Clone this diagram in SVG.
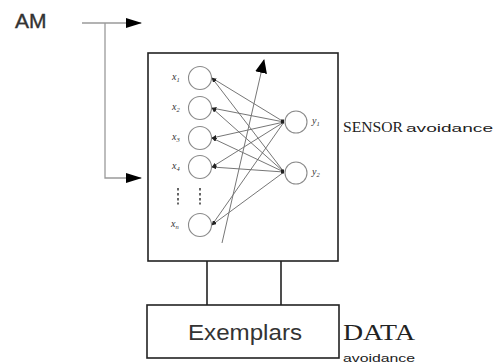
<svg xmlns="http://www.w3.org/2000/svg" width="498" height="364" viewBox="0 0 498 364">
<style>
.box{fill:#fff;stroke:#222;stroke-width:1.6}
.wire{fill:none;stroke:#9a9a9a;stroke-width:1.3}
.vl{fill:none;stroke:#222;stroke-width:1.6}
.neuron{fill:#fff;stroke:#8a8a8a;stroke-width:1.1}
.syn{stroke:#666;stroke-width:0.9;fill:none}
.lbl{font-family:"Liberation Serif",serif;font-style:italic;font-size:10px;fill:#333}
.sub{font-size:6.5px}
.sans{font-family:"Liberation Sans",Arial,sans-serif}
.serif{font-family:"Liberation Serif","Times New Roman",serif}
</style>
<defs>
<marker id="ah" markerWidth="16" markerHeight="10" refX="15" refY="5" orient="auto" markerUnits="userSpaceOnUse">
<path d="M0,0 L16,5 L0,10 z" fill="#000"/>
</marker>
<marker id="big" markerWidth="14" markerHeight="12" refX="13" refY="6" orient="auto" markerUnits="userSpaceOnUse">
<path d="M0,0 L14,6 L0,12 z" fill="#000"/>
</marker>
<marker id="sm" markerWidth="5" markerHeight="4" refX="4.5" refY="2" orient="auto" markerUnits="userSpaceOnUse">
<path d="M0,0 L5,2 L0,4 z" fill="#222"/>
</marker>
</defs>

<g id="am-label">
<text x="15" y="28" class="sans" font-size="21" fill="#333" stroke="#333" stroke-width="0.4">AM</text>
</g>

<g id="connectors">
<path class="wire" d="M82,23 H141" marker-end="url(#ah)"/>
<path class="wire" d="M105,23 V178 H141" marker-end="url(#ah)"/>
<line class="vl" x1="207" y1="261" x2="207" y2="305"/>
<line class="vl" x1="281" y1="261" x2="281" y2="305"/>
</g>

<g id="sensor-box">
<rect class="box" x="148" y="53" width="190" height="208"/>
<g id="synapses">
<line class="syn" x1="284" y1="122" x2="212" y2="78" marker-end="url(#sm)"/>
<line class="syn" x1="284" y1="172" x2="212" y2="78" marker-end="url(#sm)"/>
<line class="syn" x1="284" y1="122" x2="212" y2="108" marker-end="url(#sm)"/>
<line class="syn" x1="284" y1="172" x2="212" y2="108" marker-end="url(#sm)"/>
<line class="syn" x1="284" y1="122" x2="212" y2="138" marker-end="url(#sm)"/>
<line class="syn" x1="284" y1="172" x2="212" y2="138" marker-end="url(#sm)"/>
<line class="syn" x1="284" y1="122" x2="212" y2="167" marker-end="url(#sm)"/>
<line class="syn" x1="284" y1="172" x2="212" y2="167" marker-end="url(#sm)"/>
<line class="syn" x1="284" y1="122" x2="212" y2="225" marker-end="url(#sm)"/>
<line class="syn" x1="284" y1="172" x2="212" y2="225" marker-end="url(#sm)"/>
<rect x="281" y="119.5" width="3" height="4" fill="#222"/>
<rect x="281" y="169.5" width="3" height="4" fill="#222"/>
</g>
<line x1="222" y1="243" x2="264" y2="60" stroke="#777" stroke-width="1" marker-end="url(#big)"/>
<g id="inputs">
<circle class="neuron" cx="200" cy="78" r="11.5"/>
<circle class="neuron" cx="200" cy="108" r="11.5"/>
<circle class="neuron" cx="200" cy="138" r="11.5"/>
<circle class="neuron" cx="200" cy="167" r="11.5"/>
<circle class="neuron" cx="200" cy="225" r="11.5"/>
<text class="lbl" x="172" y="80">x<tspan class="sub" dy="2">1</tspan></text>
<text class="lbl" x="172" y="110">x<tspan class="sub" dy="2">2</tspan></text>
<text class="lbl" x="172" y="140">x<tspan class="sub" dy="2">3</tspan></text>
<text class="lbl" x="172" y="169">x<tspan class="sub" dy="2">4</tspan></text>
<text class="lbl" x="171" y="227">x<tspan class="sub" dy="2">n</tspan></text>
<g fill="#666">
<rect x="177" y="188" width="2" height="2.5"/><rect x="177" y="193" width="2" height="2.5"/><rect x="177" y="198" width="2" height="2.5"/><rect x="177" y="202.5" width="2" height="2"/>
<rect x="199" y="188" width="2" height="2.5"/><rect x="199" y="193" width="2" height="2.5"/><rect x="199" y="198" width="2" height="2.5"/><rect x="199" y="202.5" width="2" height="2"/>
</g>
</g>
<g id="outputs">
<circle class="neuron" cx="296" cy="122" r="11"/>
<circle class="neuron" cx="296" cy="173" r="11"/>
<text class="lbl" x="312" y="124">y<tspan class="sub" dy="2">1</tspan></text>
<text class="lbl" x="312" y="175">y<tspan class="sub" dy="2">2</tspan></text>
</g>
</g>

<g id="sensor-label">
<text x="343" y="132" fill="#222"><tspan class="serif" font-size="14" textLength="60" lengthAdjust="spacingAndGlyphs">SENSOR</tspan><tspan class="sans" font-size="11" dx="3" textLength="87" lengthAdjust="spacingAndGlyphs">avoidance</tspan></text>
</g>

<g id="exemplars">
<rect class="box" x="147" y="305" width="192" height="53"/>
<text x="245" y="340" text-anchor="middle" class="sans" font-size="22" fill="#333" textLength="114" lengthAdjust="spacingAndGlyphs">Exemplars</text>
</g>

<g id="data-label">
<text x="343" y="340" class="serif" font-size="23" fill="#222" textLength="72" lengthAdjust="spacingAndGlyphs">DATA</text>
<text x="343" y="362" class="sans" font-size="11" fill="#222" textLength="72" lengthAdjust="spacingAndGlyphs">avoidance</text>
</g>
</svg>
